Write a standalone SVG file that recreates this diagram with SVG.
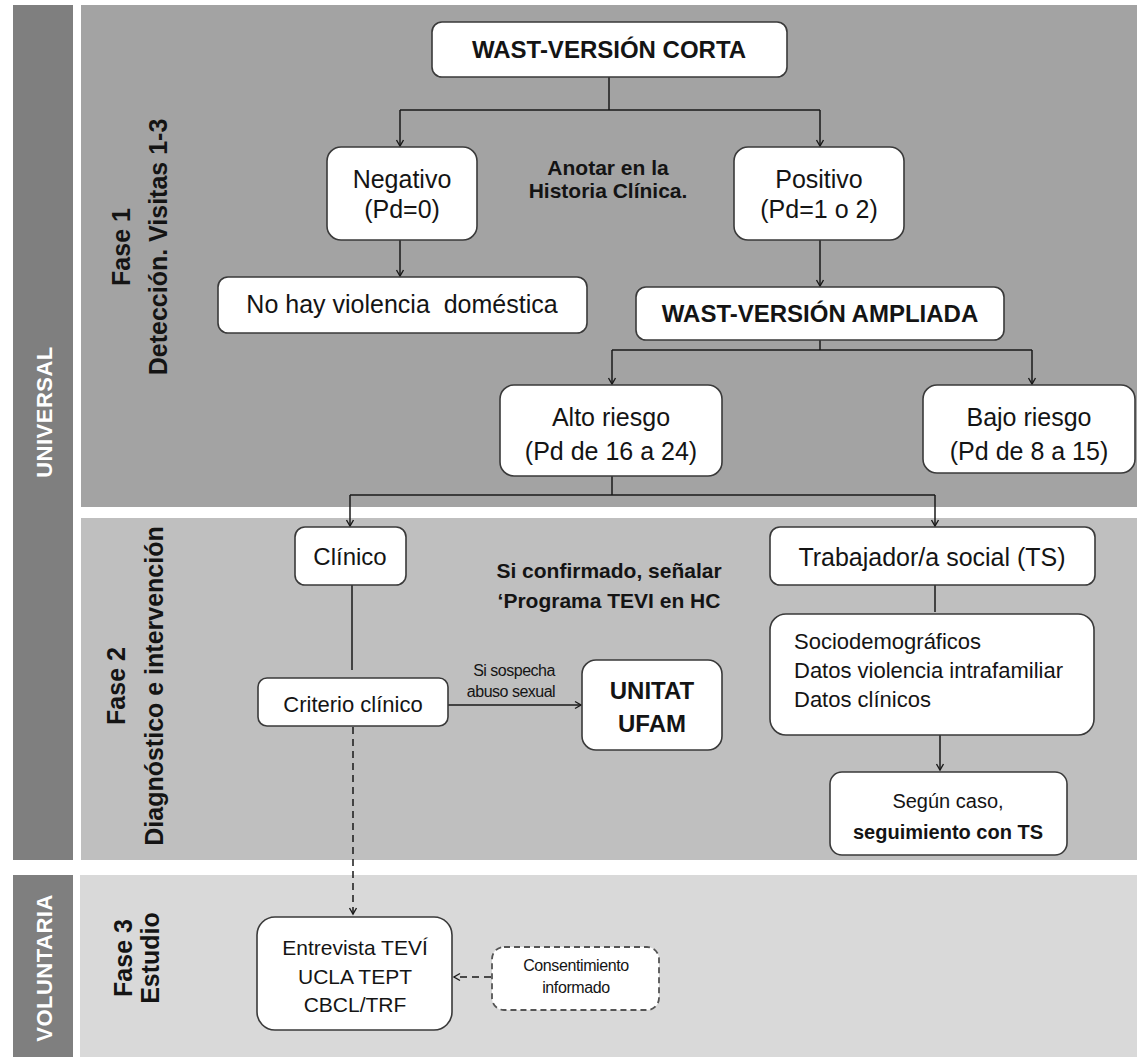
<svg xmlns="http://www.w3.org/2000/svg" width="1137" height="1057" viewBox="0 0 1137 1057">
<defs>
<marker id="arr" markerWidth="10" markerHeight="10" refX="8" refY="5" orient="auto" markerUnits="userSpaceOnUse">
<path d="M2,1.5 L8,5 L2,8.5" fill="none" stroke="#1a1a1a" stroke-width="1.4"/>
</marker>
</defs>
<style>
.box{fill:#fff;stroke:#3a3a3a;stroke-width:1.6}
.dbox{fill:#fff;stroke:#555;stroke-width:1.8;stroke-dasharray:6 4}
.t{font-family:"Liberation Sans",Arial,sans-serif;fill:#141414;text-anchor:middle}
.b{font-weight:bold}
.side{font-family:"Liberation Sans",Arial,sans-serif;font-weight:bold;fill:#fff;font-size:22px;text-anchor:middle;letter-spacing:0.5px}
.ph{font-family:"Liberation Sans",Arial,sans-serif;font-weight:bold;fill:#141414;font-size:25px;text-anchor:middle}
.c{fill:none;stroke:#1a1a1a;stroke-width:1.5}
.dc{fill:none;stroke:#1a1a1a;stroke-width:1.5;stroke-dasharray:7 5}
</style>
<rect x="0" y="0" width="1137" height="1057" fill="#fff"/>
<g id="bands">
<rect x="13" y="5" width="60" height="855" fill="#7f7f7f"/>
<rect x="13" y="875" width="60" height="182" fill="#7f7f7f"/>
<rect x="81" y="5" width="1056" height="502" fill="#a3a3a3"/>
<rect x="81" y="518" width="1056" height="342" fill="#bfbfbf"/>
<rect x="80" y="875" width="1057" height="182" fill="#d9d9d9"/>
<text class="side" transform="translate(52,412) rotate(-90)">UNIVERSAL</text>
<text class="side" transform="translate(52,968) rotate(-90)">VOLUNTARIA</text>
<text class="ph" transform="translate(130,247) rotate(-90)">Fase 1</text>
<text class="ph" transform="translate(167,247) rotate(-90)">Detección. Visitas 1-3</text>
<text class="ph" transform="translate(125,686) rotate(-90)">Fase 2</text>
<text class="ph" transform="translate(163,686) rotate(-90)">Diagnóstico e intervención</text>
<text class="ph" transform="translate(132,958) rotate(-90)">Fase 3</text>
<text class="ph" transform="translate(159,958) rotate(-90)">Estudio</text>
</g>
<g id="connectors">
<polyline class="c" points="609,77 609,110"/>
<polyline class="c" points="400,110 820,110"/>
<polyline class="c" points="400,110 400,146" marker-end="url(#arr)"/>
<polyline class="c" points="820,110 820,146" marker-end="url(#arr)"/>
<polyline class="c" points="400,240 400,276" marker-end="url(#arr)"/>
<polyline class="c" points="820,240 820,286" marker-end="url(#arr)"/>
<polyline class="c" points="820,340 820,350"/>
<polyline class="c" points="612,350 1032,350"/>
<polyline class="c" points="612,350 612,384" marker-end="url(#arr)"/>
<polyline class="c" points="1032,350 1032,384" marker-end="url(#arr)"/>
<polyline class="c" points="612,476 612,495"/>
<polyline class="c" points="350,495 935,495"/>
<polyline class="c" points="350,495 350,526" marker-end="url(#arr)"/>
<polyline class="c" points="935,495 935,526" marker-end="url(#arr)"/>
<polyline class="c" points="935,585 935,612"/>
<polyline class="c" points="940,735 940,770" marker-end="url(#arr)"/>
<polyline class="c" points="352,585 352,670"/>
<polyline class="c" points="448,705 581,705" marker-end="url(#arr)"/>
<polyline class="dc" points="353,727 353,914" marker-end="url(#arr)"/>
<polyline class="dc" points="491,977 454,977" marker-end="url(#arr)"/>
</g>
<g id="n_corta"><rect class="box" x="432" y="22" width="355" height="55" rx="10"/><text class="t b" x="609" y="58" font-size="24">WAST-VERSIÓN CORTA</text></g>
<g id="n_neg"><rect class="box" x="327" y="147" width="150" height="93" rx="14"/><text class="t" x="402" y="188" font-size="25">Negativo</text><text class="t" x="402" y="218" font-size="25">(Pd=0)</text></g>
<g id="n_anotar"><text class="t b" x="608" y="175" font-size="21">Anotar en la</text><text class="t b" x="608" y="198" font-size="21">Historia Clínica.</text></g>
<g id="n_pos"><rect class="box" x="734" y="147" width="170" height="93" rx="14"/><text class="t" x="819" y="188" font-size="25">Positivo</text><text class="t" x="819" y="218" font-size="25">(Pd=1 o 2)</text></g>
<g id="n_nohay"><rect class="box" x="218" y="277" width="369" height="56" rx="10"/><text class="t" x="402" y="313" font-size="25" xml:space="preserve">No hay violencia  doméstica</text></g>
<g id="n_ampliada"><rect class="box" x="636" y="287" width="368" height="53" rx="10"/><text class="t b" x="820" y="322" font-size="24">WAST-VERSIÓN AMPLIADA</text></g>
<g id="n_alto"><rect class="box" x="500" y="385" width="222" height="91" rx="14"/><text class="t" x="611" y="426" font-size="25">Alto riesgo</text><text class="t" x="611" y="460" font-size="25">(Pd de 16 a 24)</text></g>
<g id="n_bajo"><rect class="box" x="923" y="385" width="212" height="88" rx="14"/><text class="t" x="1029" y="426" font-size="25">Bajo riesgo</text><text class="t" x="1029" y="460" font-size="25">(Pd de 8 a 15)</text></g>
<g id="n_clinico"><rect class="box" x="295" y="527" width="111" height="58" rx="10"/><text class="t" x="350" y="565" font-size="24">Clínico</text></g>
<g id="n_siconf"><text class="t b" x="609" y="578" font-size="21">Si confirmado, señalar</text><text class="t b" x="609" y="608" font-size="21">‘Programa TEVI en HC</text></g>
<g id="n_ts"><rect class="box" x="770" y="527" width="325" height="58" rx="10"/><text class="t" x="932" y="566" font-size="25">Trabajador/a social (TS)</text></g>
<g id="n_datos"><rect class="box" x="770" y="614" width="324" height="121" rx="16"/><text class="t" x="794" y="649" font-size="22" style="text-anchor:start">Sociodemográficos</text><text class="t" x="794" y="678" font-size="22" style="text-anchor:start">Datos violencia intrafamiliar</text><text class="t" x="794" y="707" font-size="22" style="text-anchor:start">Datos clínicos</text></g>
<g id="n_segun"><rect class="box" x="830" y="772" width="237" height="83" rx="12"/><text class="t" x="948" y="808" font-size="20">Según caso,</text><text class="t b" x="948" y="839" font-size="20">seguimiento con TS</text></g>
<g id="n_criterio"><rect class="box" x="258" y="678" width="190" height="48" rx="9"/><text class="t" x="353" y="712" font-size="22">Criterio clínico</text></g>
<g id="n_sisosp"><text class="t" x="514" y="676" font-size="16" letter-spacing="-0.5">Si sospecha</text><text class="t" x="511" y="697" font-size="16" letter-spacing="-0.5">abuso sexual</text></g>
<g id="n_unitat"><rect class="box" x="582" y="660" width="140" height="90" rx="14"/><text class="t b" x="652" y="699" font-size="24">UNITAT</text><text class="t b" x="652" y="732" font-size="24">UFAM</text></g>
<g id="n_entrevista"><rect class="box" x="257" y="917" width="195" height="113" rx="18"/><text class="t" x="355" y="955" font-size="21">Entrevista TEVÍ</text><text class="t" x="355" y="984" font-size="21">UCLA TEPT</text><text class="t" x="355" y="1012" font-size="21">CBCL/TRF</text></g>
<g id="n_consent"><rect class="dbox" x="492" y="947" width="167" height="63" rx="12"/><text class="t" x="576" y="971" font-size="16" letter-spacing="-0.4">Consentimiento</text><text class="t" x="576" y="993" font-size="16" letter-spacing="-0.4">informado</text></g>
</svg>
